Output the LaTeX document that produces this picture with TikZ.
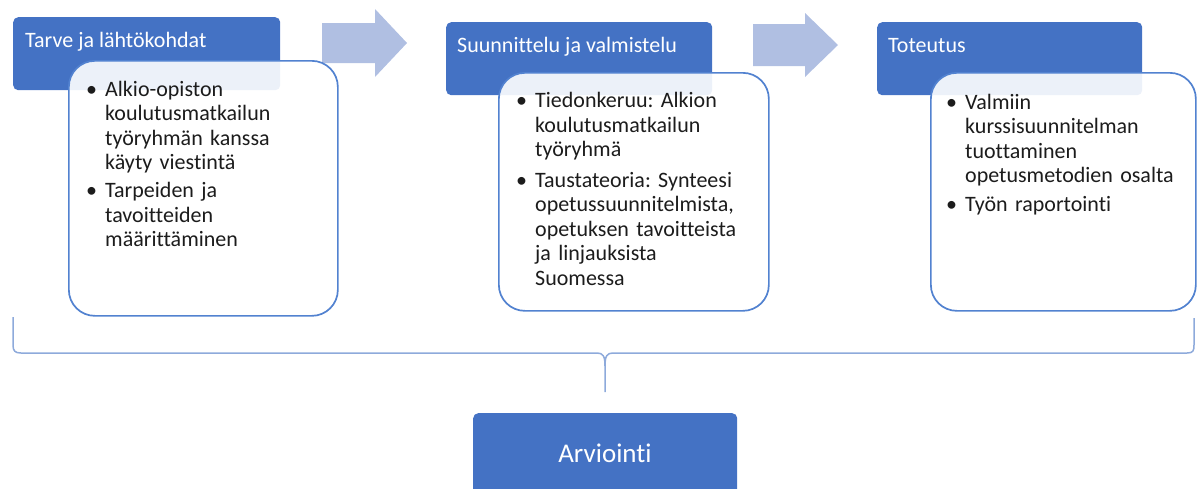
\documentclass[tikz,border=0pt]{standalone}
\usepackage{fontspec}
\setmainfont{Carlito}[Ligatures=NoCommon]
\frenchspacing
\definecolor{hdrblue}{HTML}{4472C4}
\definecolor{cardline}{HTML}{5282D0}
\definecolor{arrowblue}{HTML}{B0BFE2}
\definecolor{bracecol}{HTML}{8EAADB}
\definecolor{bodytext}{HTML}{1C1C1C}
\newcommand\bitem{\par\hangindent=19pt\hangafter=1\noindent\makebox[19pt][l]{•}}
\tikzset{
  hdr/.style={fill=hdrblue, draw=none, rounded corners=5pt, inner sep=0pt},
  card/.style={fill=white, fill opacity=0.9, draw=cardline, line width=1.7pt, rounded corners=26pt, inner sep=0pt},
  hdrtxt/.style={text=white, font=\fontsize{22}{26}\selectfont, inner sep=0pt, anchor=base west},
  bodytxt/.style={text=bodytext, font=\fontsize{22}{24.5}\selectfont, inner sep=0pt, anchor=north west, align=left, text width=250pt},
  flowarrow/.style={fill=arrowblue, draw=none},
  brace/.style={draw=bracecol, line width=1.5pt},
  evtxt/.style={text=white, font=\fontsize{27}{30}\selectfont, inner sep=0pt, anchor=base}
}
\begin{document}
\begin{tikzpicture}[x=1pt,y=-1pt]
\useasboundingbox (0,0) rectangle (1197,488);

% step headers
\node[hdr, minimum width=267pt, minimum height=73pt, anchor=north west] (h1) at (13,17) {};
\node[hdr, minimum width=266pt, minimum height=73pt, anchor=north west] (h2) at (446,22) {};
\node[hdr, minimum width=265pt, minimum height=73pt, anchor=north west] (h3) at (877,22) {};
\node[hdrtxt] (h1t) at (25,47) {Tarve ja lähtökohdat};
\node[hdrtxt] (h2t) at (457,52) {Suunnittelu ja valmistelu};
\node[hdrtxt] (h3t) at (888,52) {Toteutus};

% flow arrows between the steps
\fill[flowarrow] (322,23) -- (375,23) -- (375,9) -- (407,43) -- (375,77) -- (375,63) -- (322,63) -- cycle;
\fill[flowarrow] (753,24) -- (805,24) -- (805,13) -- (838,45) -- (805,77) -- (805,66) -- (753,66) -- cycle;

% detail cards
\node[card, minimum width=269pt, minimum height=255pt, anchor=north west] (c1) at (68,60) {};
\node[card, minimum width=270pt, minimum height=238pt, anchor=north west] (c2) at (498,72) {};
\node[card, minimum width=265pt, minimum height=238pt, anchor=north west] (c3) at (930,72) {};

\node[bodytxt] (c1t) at (86,68) {\setlength{\parskip}{3.5pt}%
\bitem Alkio-opiston\newline koulutusmatkailun\newline työryhmän kanssa\newline käyty viestintä
\bitem Tarpeiden ja\newline tavoitteiden\newline määrittäminen\par};
\node[bodytxt] (c2t) at (516,77) {\setlength{\parskip}{6pt}%
\bitem Tiedonkeruu: Alkion\newline koulutusmatkailun\newline työryhmä
\bitem Taustateoria: Synteesi\newline opetussuunnitelmista,\newline opetuksen tavoitteista\newline ja linjauksista\newline Suomessa\par};
\node[bodytxt] (c3t) at (946,80) {\setlength{\parskip}{4.5pt}%
\bitem Valmiin\newline kurssisuunnitelman\newline tuottaminen\newline opetusmetodien osalta
\bitem Työn raportointi\par};

% brace gathering the three steps
\coordinate (btip) at (605,392);
\draw[brace] (13,317) -- (13,345) .. controls (13,351) and (15,353) .. (21,353) -- (597,353)
  .. controls (603,353) and (605,356) .. (605,366) -- (btip);
\draw[brace] (605,366) .. controls (605,356) and (607,353) .. (613,353) -- (1187,353)
  .. controls (1193,353) and (1194,351) .. (1194,345) -- (1194,318);

% evaluation box
\node[hdr, minimum width=264pt, minimum height=95pt, anchor=north west] (ev) at (473,413) {};
\node[evtxt] (evt) at (605,462) {Arviointi};
\end{tikzpicture}
\end{document}
